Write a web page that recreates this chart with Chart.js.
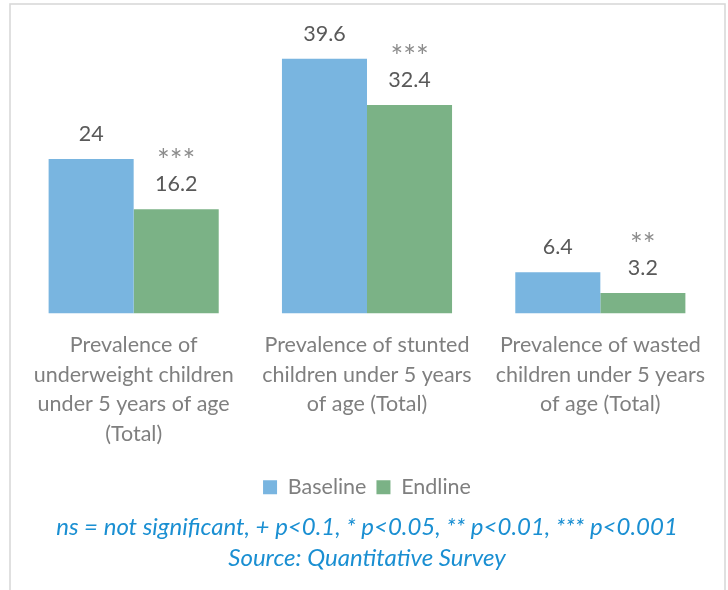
<!DOCTYPE html>
<html>
<head>
<meta charset="utf-8">
<title>Child nutrition indicators</title>
<script src="https://cdn.jsdelivr.net/npm/chart.js@4.4.1/dist/chart.umd.min.js"></script>
<style>
  html, body { margin: 0; padding: 0; background: #ffffff; }
  #wrap { position: relative; width: 728px; height: 590px; }
</style>
</head>
<body>
<div id="wrap"><canvas id="chart" width="728" height="590"></canvas></div>
<script>
// Indicator names (wrapped as they appear under each group)
const categories = [
  ['Prevalence of', 'underweight children', 'under 5 years of age', '(Total)'],
  ['Prevalence of stunted', 'children under 5 years', 'of age (Total)'],
  ['Prevalence of wasted', 'children under 5 years', 'of age (Total)']
];
const seriesNames = ['Baseline', 'Endline'];
const baseline = [24, 39.6, 6.4];
const endline = [16.2, 32.4, 3.2];
// Significance of the baseline-endline change
const endlineSignificance = ['***', '***', '**'];
const footnotes = [
  'ns = not significant, + p<0.1, * p<0.05, ** p<0.01, *** p<0.001',
  'Source: Quantitative Survey'
];

const FONT = 'Lato, "Open Sans", sans-serif';
const BLUE = '#79b5e0';
const GREEN = '#7bb286';

// Light grey frame around the whole figure
const frame = {
  id: 'frame',
  beforeDraw(chart) {
    const ctx = chart.ctx;
    ctx.save();
    ctx.fillStyle = '#ffffff';
    ctx.fillRect(0, 0, chart.width, chart.height);
    ctx.strokeStyle = '#d9d9d9';
    ctx.lineWidth = 1.6;
    ctx.strokeRect(10, 4, 715, chart.height + 20);
    ctx.restore();
  }
};

// Value labels above bars, with significance stars above the endline values
const barLabels = {
  id: 'barLabels',
  afterDatasetsDraw(chart) {
    const ctx = chart.ctx;
    ctx.save();
    ctx.textAlign = 'center';
    ctx.textBaseline = 'middle';
    chart.data.datasets.forEach((ds, di) => {
      const meta = chart.getDatasetMeta(di);
      meta.data.forEach((bar, i) => {
        const y = bar.y - 25;
        ctx.font = '21.5px ' + FONT;
        ctx.fillStyle = '#595959';
        ctx.fillText(String(ds.data[i]), bar.x, y);
        if (ds.significance) {
          ctx.font = '30px ' + FONT;
          ctx.fillStyle = '#8c8c8c';
          ctx.fillText(ds.significance[i], bar.x, y - 23);
        }
      });
    });
    ctx.restore();
  }
};

function draw() {
  new Chart(document.getElementById('chart'), {
    type: 'bar',
    data: {
      labels: categories,
      datasets: [
        { label: seriesNames[0], data: baseline, backgroundColor: BLUE, borderWidth: 0 },
        { label: seriesNames[1], data: endline, backgroundColor: GREEN, borderWidth: 0,
          significance: endlineSignificance }
      ]
    },
    options: {
      responsive: false,
      animation: false,
      devicePixelRatio: 1,
      layout: { padding: { top: 24, left: 17, right: 11, bottom: 0 } },
      datasets: { bar: { categoryPercentage: 0.729, barPercentage: 1 } },
      scales: {
        x: {
          grid: { display: false, drawTicks: false },
          border: { display: false },
          ticks: {
            color: '#7f7f7f',
            padding: 17,
            maxRotation: 0,
            autoSkip: false,
            font: { family: FONT, size: 21.5, lineHeight: '29.5px' }
          },
          afterFit(scale) { scale.height += 1; }
        },
        y: {
          display: false,
          min: 0,
          max: 45
        }
      },
      plugins: {
        legend: {
          position: 'bottom',
          labels: {
            color: '#7f7f7f',
            boxWidth: 14,
            boxHeight: 14,
            padding: 10,
            font: { family: FONT, size: 21.5 }
          }
        },
        title: {
          display: true,
          position: 'bottom',
          text: footnotes,
          color: '#1a8fd2',
          padding: { top: 4, bottom: 16 },
          font: { family: FONT, size: 24, style: 'italic', weight: 'normal', lineHeight: '31px' }
        },
        tooltip: { enabled: false }
      }
    },
    plugins: [frame, barLabels]
  });
}

if (document.fonts && document.fonts.load) {
  Promise.all([
    document.fonts.load('21px Lato'),
    document.fonts.load('italic 24px Lato')
  ]).then(draw, draw);
} else {
  draw();
}
</script>
</body>
</html>
